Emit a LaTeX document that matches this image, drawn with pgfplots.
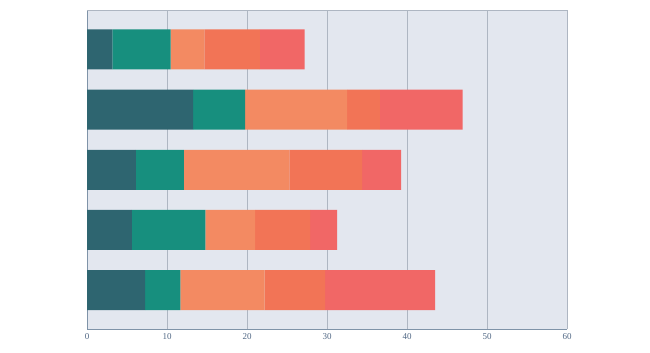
\documentclass[border=0pt]{standalone}
\usepackage{pgfplots}
\pgfplotsset{compat=1.18}
\usepackage{fontspec}
\setmainfont{Liberation Serif}
\definecolor{bg}{HTML}{E3E7EF}
\definecolor{gridc}{HTML}{AEB6C2}
\definecolor{axc}{HTML}{7F93A8}
\definecolor{tickc}{HTML}{506784}
\definecolor{c1}{HTML}{2E6570}
\definecolor{c2}{HTML}{178F7E}
\definecolor{c3}{HTML}{F38A62}
\definecolor{c4}{HTML}{F27456}
\definecolor{c5}{HTML}{F16766}
\begin{document}
\begin{tikzpicture}
\useasboundingbox (0,0) rectangle (650pt,353pt);
\begin{axis}[
  at={(87pt,23.7pt)}, anchor=south west,
  scale only axis, width=480pt, height=319pt,
  xbar stacked, bar width=40pt,
  xmin=0, xmax=60, ymin=-0.65, ymax=4.65,
  xtick={0,10,...,60}, ytick=\empty,
  axis background/.style={fill=bg},
  xmajorgrids, major grid style={gridc, line width=0.6pt},
  axis line style={draw=none},
  tick style={draw=none},
  xticklabel style={font=\fontsize{9}{10}\selectfont, text=tickc, yshift=-1pt},
  /pgf/number format/assume math mode=true,
  every axis plot/.append style={draw=none},
  clip=false,
]
\addplot[fill=c1] coordinates {(3.16,4) (13.25,3) (6.1,2) (5.6,1) (7.25,0)};
\addplot[fill=c2] coordinates {(7.29,4) (6.5,3) (6.0,2) (9.2,1) (4.41,0)};
\addplot[fill=c3] coordinates {(4.21,4) (12.75,3) (13.2,2) (6.2,1) (10.54,0)};
\addplot[fill=c4] coordinates {(6.94,4) (4.1,3) (9.1,2) (6.9,1) (7.55,0)};
\addplot[fill=c5] coordinates {(5.6,4) (10.36,3) (4.85,2) (3.35,1) (13.75,0)};
\draw[gridc, line width=0.6pt] (axis cs:0,4.65) -- (axis cs:60,4.65) -- (axis cs:60,-0.65);
\draw[axc, line width=0.8pt] (axis cs:0,4.65) -- (axis cs:0,-0.65) -- (axis cs:60,-0.65);
\end{axis}
\end{tikzpicture}
\end{document}
